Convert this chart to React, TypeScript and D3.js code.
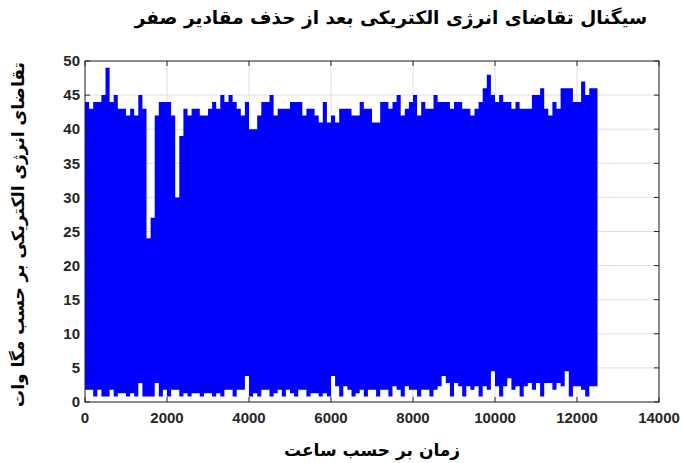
import React, { useEffect, useRef } from 'react'
import * as d3 from 'd3'

// energy demand after removing zero values, read per 100-hour bin (MW)
const binHours = 100
const maxMW = [
  44, 43, 44, 44, 45, 49, 44, 45, 43, 43,
  42, 43, 42, 45, 43, 24, 27, 42, 44, 44,
  44, 42, 30, 39, 43, 42, 43, 43, 42, 42,
  43, 44, 43, 45, 44, 45, 44, 43, 42, 44,
  40, 40, 42, 44, 44, 45, 42, 43, 43, 43,
  44, 44, 44, 42, 43, 43, 42, 41, 44, 41,
  42, 41, 43, 43, 43, 42, 42, 44, 43, 43,
  41, 41, 44, 44, 43, 44, 45, 42, 43, 44,
  45, 42, 44, 43, 43, 45, 44, 44, 44, 43,
  44, 44, 43, 43, 42, 43, 44, 46, 48, 45,
  44, 45, 44, 44, 43, 44, 43, 43, 43, 45,
  45, 46, 43, 42, 44, 43, 46, 46, 46, 44,
  44, 47, 45, 46, 46,
]
const minMW = [
  1.8, 1.8, 0.8, 1.8, 0.8, 0.8, 1.8, 0.8, 1.3, 1.3,
  0.8, 1.3, 0.8, 2.8, 0.8, 0.8, 0.8, 2.8, 0.8, 1.8,
  0.8, 1.8, 1.8, 0.8, 1.3, 0.8, 1.3, 1.3, 0.8, 1.3,
  1.3, 0.8, 1.3, 0.8, 1.8, 1.8, 0.8, 1.8, 1.8, 3.8,
  0.8, 1.3, 0.8, 1.8, 1.8, 0.8, 1.3, 1.8, 0.8, 1.8,
  1.3, 0.8, 1.8, 1.8, 0.8, 1.3, 1.3, 0.8, 1.3, 0.8,
  3.8, 2.3, 0.8, 2.3, 1.8, 0.8, 1.3, 1.8, 0.8, 1.8,
  1.8, 0.8, 1.8, 1.8, 0.8, 2.3, 1.8, 0.8, 2.3, 1.8,
  1.8, 0.8, 1.8, 1.8, 0.8, 1.8, 2.3, 3.8, 2.8, 0.8,
  2.8, 2.3, 0.8, 2.3, 1.8, 2.3, 0.8, 2.3, 1.8, 4.5,
  2.3, 0.8, 2.3, 3.5, 1.8, 2.3, 0.8, 2.3, 2.8, 1.8,
  2.8, 0.8, 2.8, 2.8, 1.8, 2.8, 2.3, 4.5, 0.8, 2.3,
  2.3, 1.8, 0.8, 2.3, 2.3,
]
const xTicks = [0, 2000, 4000, 6000, 8000, 10000, 12000, 14000]
const yTicks = [0, 5, 10, 15, 20, 25, 30, 35, 40, 45, 50]

const title = 'سیگنال تقاضای انرژی الکتریکی بعد از حذف مقادیر صفر'
const xLabel = 'زمان بر حسب ساعت'
const yLabel = 'تقاضای انرژی الکتریکی بر حسب مگا وات'

const width = 681
const height = 463
const margin = { left: 85, right: 22, top: 61, bottom: 61 }
const axisColor = '#262626'
const gridColor = '#e0e0e0'
const numFont = '"Liberation Sans", Arial, sans-serif'
const faFont = '"DejaVu Sans", sans-serif'

function App() {
  const ref = useRef<SVGSVGElement>(null)

  useEffect(() => {
    const svg = d3.select(ref.current)
    svg.selectAll('*').remove()

    const x = d3.scaleLinear().domain([0, 14000]).range([margin.left, width - margin.right])
    const y = d3.scaleLinear().domain([0, 50]).range([height - margin.bottom, margin.top])

    // grid
    svg.append('g')
      .selectAll('line.v')
      .data(xTicks)
      .join('line')
      .attr('x1', d => x(d)).attr('x2', d => x(d))
      .attr('y1', y(0)).attr('y2', y(50))
      .attr('stroke', gridColor)
    svg.append('g')
      .selectAll('line.h')
      .data(yTicks)
      .join('line')
      .attr('x1', x(0)).attr('x2', x(14000))
      .attr('y1', d => y(d)).attr('y2', d => y(d))
      .attr('stroke', gridColor)

    // signal envelope
    const pts = maxMW.map((m, i) => ({ t: i * binHours, hi: m, lo: minMW[i] }))
    pts.push({ t: maxMW.length * binHours, hi: maxMW[maxMW.length - 1], lo: minMW[minMW.length - 1] })
    const area = d3.area<{ t: number, hi: number, lo: number }>()
      .x(d => x(d.t))
      .y0(d => y(d.lo))
      .y1(d => y(d.hi))
      .curve(d3.curveStepAfter)
    svg.append('path')
      .datum(pts)
      .attr('d', area)
      .attr('fill', '#0000ff')

    // box + axes
    svg.append('rect')
      .attr('x', x(0)).attr('y', y(50))
      .attr('width', x(14000) - x(0)).attr('height', y(0) - y(50))
      .attr('fill', 'none').attr('stroke', axisColor)

    const tl = 5
    const g = svg.append('g').attr('stroke', axisColor)
    xTicks.forEach(d => {
      g.append('line').attr('x1', x(d)).attr('x2', x(d)).attr('y1', y(0)).attr('y2', y(0) - tl)
      g.append('line').attr('x1', x(d)).attr('x2', x(d)).attr('y1', y(50)).attr('y2', y(50) + tl)
    })
    yTicks.forEach(d => {
      g.append('line').attr('x1', x(0)).attr('x2', x(0) + tl).attr('y1', y(d)).attr('y2', y(d))
      g.append('line').attr('x1', x(14000)).attr('x2', x(14000) - tl).attr('y1', y(d)).attr('y2', y(d))
    })

    svg.append('g')
      .selectAll('text')
      .data(xTicks)
      .join('text')
      .attr('x', d => x(d))
      .attr('y', y(0) + 21)
      .attr('text-anchor', 'middle')
      .attr('font-family', numFont)
      .attr('font-weight', 'bold')
      .attr('font-size', 15)
      .attr('fill', axisColor)
      .text(d => d)

    svg.append('g')
      .selectAll('text')
      .data(yTicks)
      .join('text')
      .attr('x', x(0) - 5)
      .attr('y', d => y(d))
      .attr('dy', '0.35em')
      .attr('text-anchor', 'end')
      .attr('font-family', numFont)
      .attr('font-weight', 'bold')
      .attr('font-size', 15)
      .attr('fill', axisColor)
      .text(d => d)

    // labels
    svg.append('text')
      .attr('x', 391).attr('y', 24)
      .attr('text-anchor', 'middle')
      .attr('font-family', faFont).attr('font-weight', 'bold').attr('font-size', 18.5)
      .text(title)
    svg.append('text')
      .attr('x', (x(0) + x(14000)) / 2).attr('y', 456)
      .attr('text-anchor', 'middle')
      .attr('font-family', faFont).attr('font-weight', 'bold').attr('font-size', 17)
      .text(xLabel)
    svg.append('text')
      .attr('transform', `translate(24,${(y(0) + y(50)) / 2 + 3}) rotate(-90)`)
      .attr('text-anchor', 'middle')
      .attr('font-family', faFont).attr('font-weight', 'bold').attr('font-size', 17)
      .text(yLabel)
  }, [])

  return (
    <svg ref={ref} width={width} height={height}
      style={{ position: 'absolute', left: 0, top: 0, background: '#fff' }} />
  )
}

export default App
